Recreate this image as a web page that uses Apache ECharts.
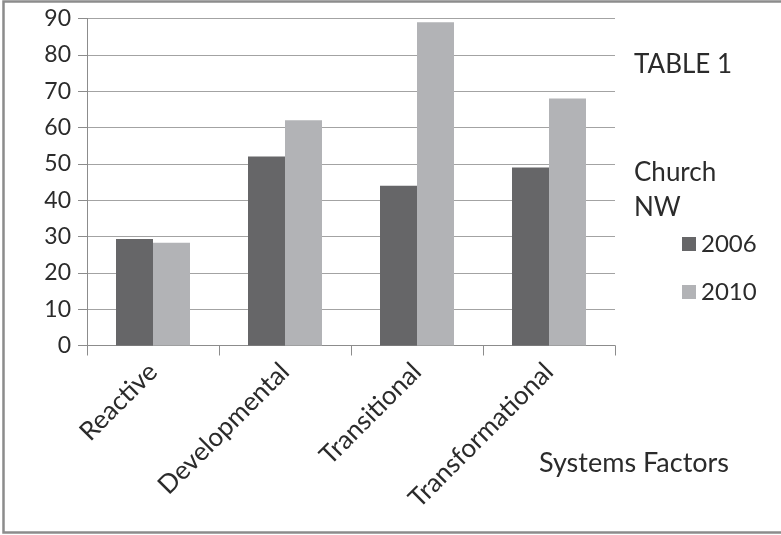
<!DOCTYPE html>
<html>
<head>
<meta charset="utf-8">
<script src="https://cdn.jsdelivr.net/npm/echarts@6/dist/echarts.min.js"></script>
<style>
  html, body { margin: 0; padding: 0; background: #fff; }
  #chart { width: 781px; height: 535px; }
</style>
</head>
<body>
<div id="chart"></div>
<script>
// Systems factor scores for Church NW, 2006 vs 2010
const categories = ['Reactive', 'Developmental', 'Transitional', 'Transformational'];
const values2006 = [29.3, 52, 44, 49];
const values2010 = [28.3, 62, 89, 68];
const yTicks = { min: 0, max: 90, interval: 10 };

const FONT = 'Lato, "Open Sans", sans-serif';
const TEXT = '#2b2b2b';

const chart = echarts.init(document.getElementById('chart'), null, { renderer: 'canvas' });

chart.setOption({
  backgroundColor: '#ffffff',
  animation: false,
  textStyle: { fontFamily: FONT, color: TEXT },
  graphic: [{
    type: 'rect',
    shape: { x: 3.5, y: 1.5, width: 800, height: 531 },
    style: { fill: 'none', stroke: '#8c8c8c', lineWidth: 2.5 },
    silent: true
  }],
  title: [
    { text: 'TABLE 1', left: 629, top: 47, textStyle: { fontFamily: FONT, fontSize: 26, fontWeight: 'normal', color: TEXT } },
    { text: 'Church\nNW', left: 629, top: 150, textStyle: { fontFamily: FONT, fontSize: 26, fontWeight: 'normal', color: TEXT, lineHeight: 35 } },
    { text: 'Systems Factors', left: 534, top: 445, textStyle: { fontFamily: FONT, fontSize: 27, fontWeight: 'normal', color: TEXT } }
  ],
  legend: {
    orient: 'vertical',
    left: 677,
    top: 227,
    itemWidth: 14,
    itemHeight: 14,
    itemGap: 24,
    itemTextGap: 7,
    icon: 'rect',
    textStyle: { fontFamily: FONT, fontSize: 24, color: TEXT },
    data: ['2006', '2010']
  },
  grid: { left: 87, right: 166, top: 18.5, bottom: 189.5, containLabel: false },
  xAxis: {
    type: 'category',
    data: categories,
    boundaryGap: true,
    axisLine: { lineStyle: { color: '#8c8c8c', width: 1 } },
    axisTick: { show: true, length: 10, alignWithLabel: false, lineStyle: { color: '#8c8c8c' } },
    axisLabel: { rotate: 45, margin: 22, fontFamily: FONT, fontSize: 26, color: TEXT, interval: 0 }
  },
  yAxis: {
    type: 'value',
    min: yTicks.min,
    max: yTicks.max,
    interval: yTicks.interval,
    axisLine: { show: true, lineStyle: { color: '#8c8c8c', width: 1 } },
    axisTick: { show: true, length: 9, lineStyle: { color: '#8c8c8c' } },
    axisLabel: { margin: 16, fontFamily: FONT, fontSize: 23, color: TEXT },
    splitLine: { show: true, lineStyle: { color: '#a3a3a3', width: 1 } }
  },
  series: [
    { name: '2006', type: 'bar', data: values2006, barWidth: 37, barGap: '0%', itemStyle: { color: '#666668' } },
    { name: '2010', type: 'bar', data: values2010, barWidth: 37, barGap: '0%', itemStyle: { color: '#b2b3b6' } }
  ]
});
</script>
</body>
</html>
